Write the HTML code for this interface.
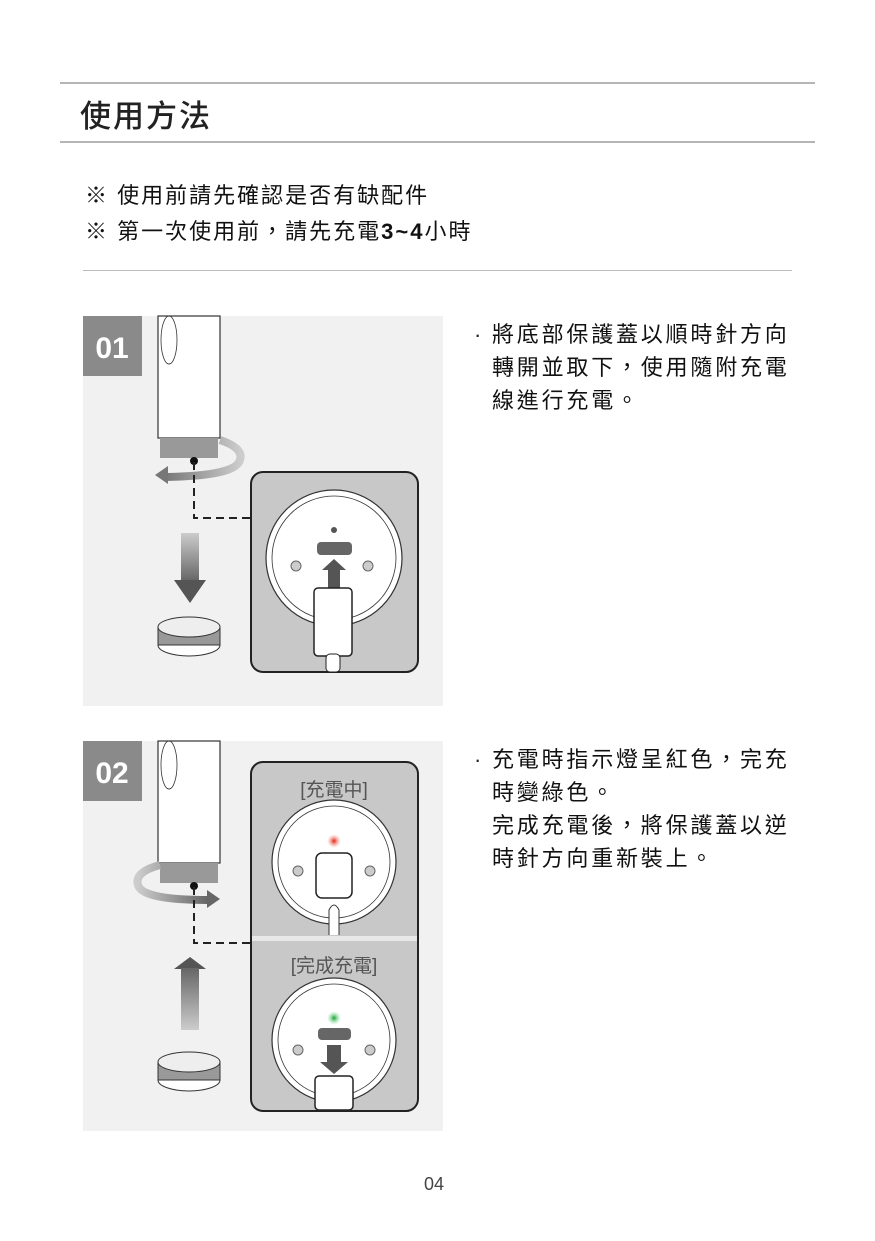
<!DOCTYPE html>
<html><head><meta charset="utf-8"><style>
body{margin:0;width:875px;height:1241px;background:#fff;position:relative;overflow:hidden;font-family:"Liberation Sans","Noto Sans CJK TC",sans-serif;color:#222}
.a{position:absolute;white-space:nowrap}
.hl{position:absolute;height:1.5px;background:#b5b5b5}
</style></head><body>
<div class="hl" style="left:60px;top:82px;width:755px"></div>
<div class="hl" style="left:60px;top:141px;width:755px"></div>
<div class="a" style="left:80px;top:91px;font-size:31px;font-weight:500;letter-spacing:2px">使用方法</div>
<div class="a" style="left:85px;top:178px;font-size:22px;letter-spacing:2px;color:#111">※ 使用前請先確認是否有缺配件</div>
<div class="a" style="left:85px;top:214px;font-size:22px;letter-spacing:2px;color:#111">※ 第一次使用前，請先充電<b>3~4</b>小時</div>
<div class="hl" style="left:83px;top:270px;width:709px;height:1px;background:#bbb"></div>

<div class="a" style="left:474px;top:318px;font-size:22px;line-height:33px">·</div>
<div class="a" style="left:492px;top:318px;font-size:22px;line-height:33px;letter-spacing:2.8px;color:#111">將底部保護蓋以順時針方向<br>轉開並取下，使用隨附充電<br>線進行充電。</div>
<div class="a" style="left:474px;top:743px;font-size:22px;line-height:33px">·</div>
<div class="a" style="left:492px;top:743px;font-size:22px;line-height:33px;letter-spacing:2.8px;color:#111">充電時指示燈呈紅色，完充<br>時變綠色。<br>完成充電後，將保護蓋以逆<br>時針方向重新裝上。</div>
<div class="a" style="left:424px;top:1174px;font-size:18px;color:#444">04</div>

<svg class="a" style="left:0;top:0" width="875" height="1241">
<defs>
<linearGradient id="g1" x1="0" y1="0" x2="0" y2="1"><stop offset="0" stop-color="#ccc"/><stop offset="1" stop-color="#666"/></linearGradient>
<linearGradient id="g2" x1="0" y1="1" x2="0" y2="0"><stop offset="0" stop-color="#ccc"/><stop offset="1" stop-color="#666"/></linearGradient>
<linearGradient id="gh" x1="0" y1="0" x2="1" y2="0"><stop offset="0" stop-color="#777"/><stop offset="1" stop-color="#ccc"/></linearGradient>
<linearGradient id="gh2" x1="0" y1="0" x2="1" y2="0"><stop offset="0" stop-color="#ccc"/><stop offset="1" stop-color="#666"/></linearGradient>
<radialGradient id="rr"><stop offset="0" stop-color="#e02010"/><stop offset="1" stop-color="#f4a090" stop-opacity="0"/></radialGradient>
<radialGradient id="gg"><stop offset="0" stop-color="#10a030"/><stop offset="1" stop-color="#90e0a0" stop-opacity="0"/></radialGradient>
</defs>
<!-- panel 1 -->
<rect x="83" y="316" width="360" height="390" fill="#f1f1f1"/>
<rect x="83" y="316" width="59" height="60" fill="#8a8a8a"/>
<text x="112" y="358" font-size="30" font-weight="bold" fill="#fff" text-anchor="middle" font-family="Liberation Sans">01</text>
<rect x="158" y="316" width="62" height="122" fill="#fff" stroke="#333" stroke-width="1.2"/>
<ellipse cx="169" cy="340" rx="8" ry="24" fill="none" stroke="#333" stroke-width="0.8"/>
<rect x="160" y="438" width="58" height="20" fill="#999"/>
<path d="M220 440 Q244 448 240 460 Q236 476 165 477" fill="none" stroke="url(#gh)" stroke-width="8"/>
<polygon points="155,475 168,466 168,484" fill="#777"/>
<circle cx="194" cy="461" r="4" fill="#111"/>
<path d="M194 462 V518 H250" fill="none" stroke="#222" stroke-width="2" stroke-dasharray="8,5"/>
<rect x="181" y="533" width="18" height="48" fill="url(#g1)"/>
<polygon points="174,580 206,580 190,603" fill="#555"/>
<ellipse cx="189" cy="645" rx="31" ry="11" fill="#fff" stroke="#333"/>
<rect x="158" y="627" width="62" height="18" fill="#999" stroke="#333" stroke-width="1"/>
<ellipse cx="189" cy="627" rx="31" ry="10" fill="#eee" stroke="#333"/>
<rect x="251" y="472" width="167" height="200" rx="12" fill="#c8c8c8" stroke="#222" stroke-width="2"/>
<circle cx="334" cy="558" r="68" fill="#fff" stroke="#333" stroke-width="1.2"/>
<circle cx="334" cy="558" r="62" fill="none" stroke="#333" stroke-width="0.8"/>
<circle cx="334" cy="530" r="3" fill="#555"/>
<rect x="317" y="542" width="35" height="13" rx="4" fill="#666"/>
<circle cx="296" cy="566" r="5" fill="#ccc" stroke="#666"/>
<circle cx="368" cy="566" r="5" fill="#ccc" stroke="#666"/>
<polygon points="322,570 334,559 346,570 340,570 340,590 328,590 328,570" fill="#555"/>
<rect x="314" y="588" width="38" height="68" rx="4" fill="#fff" stroke="#222" stroke-width="1.5"/>
<rect x="326" y="654" width="14" height="18" rx="4" fill="#fff" stroke="#222"/>
<!-- panel 2 -->
<rect x="83" y="741" width="360" height="390" fill="#f1f1f1"/>
<rect x="83" y="741" width="59" height="60" fill="#8a8a8a"/>
<text x="112" y="783" font-size="30" font-weight="bold" fill="#fff" text-anchor="middle" font-family="Liberation Sans">02</text>
<rect x="158" y="741" width="62" height="122" fill="#fff" stroke="#333" stroke-width="1.2"/>
<ellipse cx="169" cy="765" rx="8" ry="24" fill="none" stroke="#333" stroke-width="0.8"/>
<rect x="160" y="863" width="58" height="20" fill="#999"/>
<path d="M160 865 Q134 872 138 885 Q142 900 208 900" fill="none" stroke="url(#gh2)" stroke-width="8"/>
<polygon points="220,899 207,890 207,908" fill="#666"/>
<circle cx="194" cy="886" r="4" fill="#111"/>
<path d="M194 887 V943 H250" fill="none" stroke="#222" stroke-width="2" stroke-dasharray="8,5"/>
<polygon points="174,969 206,969 190,957" fill="#555"/>
<rect x="181" y="968" width="18" height="62" fill="url(#g2)"/>
<ellipse cx="189" cy="1080" rx="31" ry="11" fill="#fff" stroke="#333"/>
<rect x="158" y="1062" width="62" height="18" fill="#999" stroke="#333" stroke-width="1"/>
<ellipse cx="189" cy="1062" rx="31" ry="10" fill="#eee" stroke="#333"/>
<rect x="251" y="762" width="167" height="349" rx="12" fill="#c8c8c8" stroke="#222" stroke-width="2"/>
<rect x="252" y="936" width="165" height="5" fill="#e8e8e8"/>
<text x="334" y="796" font-size="19" fill="#555" text-anchor="middle">[充電中]</text>
<circle cx="334" cy="862" r="62" fill="#fff" stroke="#333" stroke-width="1.2"/>
<circle cx="334" cy="862" r="56" fill="none" stroke="#333" stroke-width="0.8"/>
<circle cx="334" cy="841" r="7" fill="url(#rr)"/>
<rect x="316" y="853" width="36" height="45" rx="6" fill="#fff" stroke="#222" stroke-width="1.5"/>
<path d="M329 935 V910 Q334 900 339 910 V935" fill="#fff" stroke="#333"/>
<circle cx="298" cy="871" r="5" fill="#ccc" stroke="#666"/>
<circle cx="370" cy="871" r="5" fill="#ccc" stroke="#666"/>
<text x="334" y="972" font-size="19" fill="#555" text-anchor="middle">[完成充電]</text>
<circle cx="334" cy="1040" r="62" fill="#fff" stroke="#333" stroke-width="1.2"/>
<circle cx="334" cy="1040" r="56" fill="none" stroke="#333" stroke-width="0.8"/>
<circle cx="334" cy="1018" r="7" fill="url(#gg)"/>
<rect x="318" y="1028" width="33" height="12" rx="4" fill="#666"/>
<circle cx="298" cy="1050" r="5" fill="#ccc" stroke="#666"/>
<circle cx="370" cy="1050" r="5" fill="#ccc" stroke="#666"/>
<polygon points="327,1045 341,1045 341,1062 348,1062 334,1074 320,1062 327,1062" fill="#555"/>
<rect x="315" y="1076" width="38" height="34" rx="4" fill="#fff" stroke="#222" stroke-width="1.5"/>
</svg>
</body></html>
